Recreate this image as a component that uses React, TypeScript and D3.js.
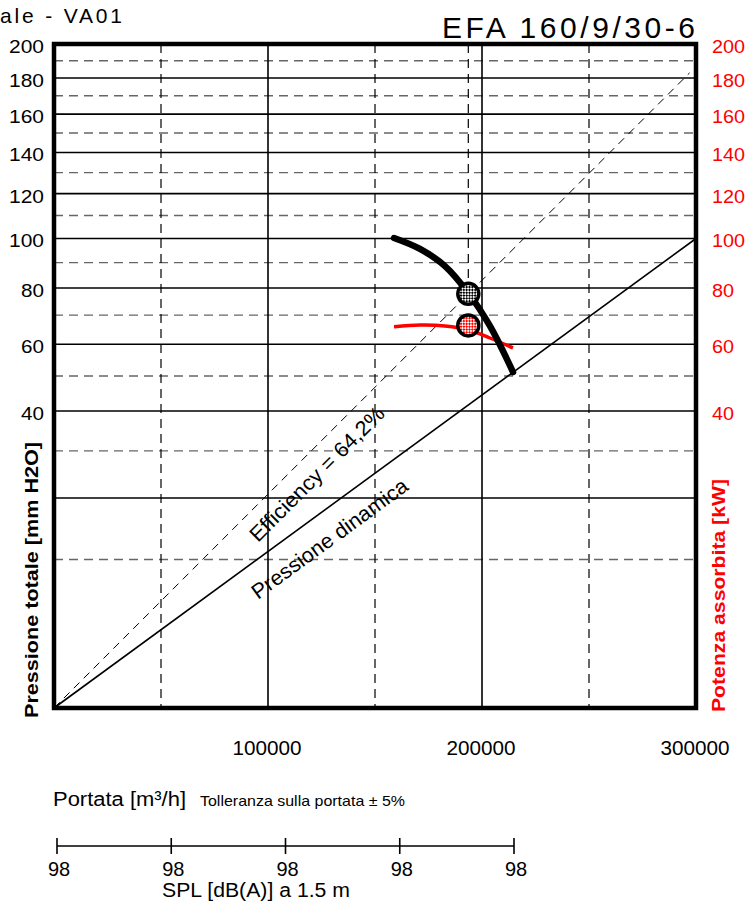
import * as d3 from "d3"

// Fan duty chart: total pressure (sqrt scale) vs flow, power on the right axis
const FLOW_TICKS = [100000, 200000, 300000]
const FLOW_GRID_MAJOR = [100000, 200000]
const FLOW_GRID_MINOR = [50000, 150000, 250000]
const PRESSURE_TICKS = [40, 60, 80, 100, 120, 140, 160, 180, 200]
const PRESSURE_GRID_MAJOR = [20, 40, 60, 80, 100, 120, 140, 160, 180]
const PRESSURE_GRID_MINOR = [10, 30, 50, 70, 90, 110, 130, 150, 170, 190]

// [flow m³/h, total pressure mm H2O]
const FAN_CURVE: [number, number][] = [
  [158900, 100.2],
  [171000, 95.6],
  [182700, 88.6],
  [193900, 77.8],
  [203700, 66.2],
  [214500, 51.2],
]
// [flow m³/h, absorbed power kW]
const POWER_CURVE: [number, number][] = [
  [158900, 65.9],
  [171000, 66.5],
  [182700, 66.2],
  [193900, 64.8],
  [203700, 62.1],
  [214500, 58.8],
]
const DYNAMIC_PRESSURE: [number, number][] = [
  [0, 0],
  [300000, 100],
]
const EFFICIENCY_LINE: [number, number][] = [
  [0, 0],
  [297000, 183],
]
const OP_FLOW = 193600
const OP_PRESSURE = 77.8
const OP_POWER = 66.4
const SPL_VALUES = [98, 98, 98, 98, 98]

const FONT = "'Liberation Sans', Arial, Helvetica, sans-serif"
const W = 747
const H = 908
const L = 54
const R = 696
const T = 44
const B = 708

function Txt({
  x,
  y,
  size,
  len,
  spacing = false,
  anchor = "start",
  fill = "#000",
  bold = false,
  rotate = 0,
  children,
}: {
  x: number
  y: number
  size: number
  len?: number
  spacing?: boolean
  anchor?: "start" | "middle" | "end"
  fill?: string
  bold?: boolean
  rotate?: number
  children: string
}) {
  return (
    <text
      x={x}
      y={y}
      fontSize={size}
      fontFamily={FONT}
      fontWeight={bold ? 700 : 400}
      fill={fill}
      textAnchor={anchor}
      textLength={len}
      lengthAdjust={len ? (spacing ? "spacing" : "spacingAndGlyphs") : undefined}
      transform={rotate ? `rotate(${rotate},${x},${y})` : undefined}
    >
      {children}
    </text>
  )
}

export default function App() {
  const x = d3.scaleLinear().domain([0, 300000]).range([L, R])
  const y = d3.scaleSqrt().domain([0, 200]).range([B, T])

  const smooth = d3
    .line<[number, number]>()
    .x((d) => x(d[0]))
    .y((d) => y(d[1]))
    .curve(d3.curveCatmullRom.alpha(0.5))
  const straight = d3
    .line<[number, number]>()
    .x((d) => x(d[0]))
    .y((d) => y(d[1]))

  const angle = (pts: [number, number][]) => {
    const [a, b] = pts
    return (Math.atan2(y(b[1]) - y(a[1]), x(b[0]) - x(a[0])) * 180) / Math.PI
  }

  const spl = d3.scaleLinear().domain([0, SPL_VALUES.length - 1]).range([57, 514])

  return (
    <svg
      width={W}
      height={H}
      viewBox={`0 0 ${W} ${H}`}
      style={{ position: "absolute", left: 0, top: 0, background: "#fff" }}
    >
      <defs>
        <pattern id="hatchK" width={4} height={4} patternUnits="userSpaceOnUse" patternTransform="rotate(45)">
          <rect width={4} height={4} fill="#fff" />
          <rect width={2} height={2} fill="#000" />
          <rect x={2} y={2} width={2} height={2} fill="#000" />
        </pattern>
        <pattern id="hatchR" width={4} height={4} patternUnits="userSpaceOnUse" patternTransform="rotate(45)">
          <rect width={4} height={4} fill="#fff" />
          <rect width={2} height={2} fill="#ff0000" />
          <rect x={2} y={2} width={2} height={2} fill="#ff0000" />
        </pattern>
      </defs>

      {/* grid */}
      <g>
        {PRESSURE_GRID_MINOR.map((p) => (
          <line key={`pm${p}`} x1={L} x2={R} y1={y(p)} y2={y(p)} stroke="#666" strokeWidth={1.4} strokeDasharray="9,6" />
        ))}
        {FLOW_GRID_MINOR.map((q) => (
          <line key={`qm${q}`} x1={x(q)} x2={x(q)} y1={T} y2={B} stroke="#000" strokeWidth={1.2} strokeDasharray="9,6" />
        ))}
        {PRESSURE_GRID_MAJOR.map((p) => (
          <line key={`pM${p}`} x1={L} x2={R} y1={y(p)} y2={y(p)} stroke="#000" strokeWidth={1.6} />
        ))}
        {FLOW_GRID_MAJOR.map((q) => (
          <line key={`qM${q}`} x1={x(q)} x2={x(q)} y1={T} y2={B} stroke="#000" strokeWidth={1.6} />
        ))}
      </g>

      {/* dynamic pressure and efficiency lines */}
      <path d={straight(DYNAMIC_PRESSURE) ?? ""} fill="none" stroke="#000" strokeWidth={1.6} />
      <path d={straight(EFFICIENCY_LINE) ?? ""} fill="none" stroke="#000" strokeWidth={1} strokeDasharray="8,6" />
      <line x1={x(OP_FLOW)} x2={x(OP_FLOW)} y1={T} y2={y(OP_PRESSURE) - 12} stroke="#000" strokeWidth={1.2} strokeDasharray="9,6" />

      <Txt x={258} y={543} size={21} len={181} rotate={angle(EFFICIENCY_LINE)}>
        Efficiency = 64,2%
      </Txt>
      <Txt x={258} y={600} size={21} len={188} rotate={angle(DYNAMIC_PRESSURE)}>
        Pressione dinamica
      </Txt>

      {/* curves */}
      <path d={smooth(POWER_CURVE) ?? ""} fill="none" stroke="#ff0000" strokeWidth={3.5} />
      <path d={smooth(FAN_CURVE) ?? ""} fill="none" stroke="#000" strokeWidth={6.5} strokeLinecap="round" />

      <circle cx={x(OP_FLOW)} cy={y(OP_PRESSURE)} r={10.5} fill="url(#hatchK)" stroke="#000" strokeWidth={3.5} />
      <circle cx={x(OP_FLOW)} cy={y(OP_POWER)} r={10.5} fill="url(#hatchR)" stroke="#000" strokeWidth={3.5} />

      {/* frame */}
      <rect x={L} y={T} width={R - L} height={B - T} fill="none" stroke="#000" strokeWidth={4.5} />

      {/* y tick labels */}
      {PRESSURE_TICKS.map((p) => (
        <g key={`yt${p}`}>
          <Txt x={44} y={y(p) + 9} size={19} len={p >= 100 ? 35 : 23} anchor="end">
            {String(p)}
          </Txt>
          <Txt x={712} y={y(p) + 9} size={19} len={p >= 100 ? 33 : 22} fill="#ff0000">
            {String(p)}
          </Txt>
        </g>
      ))}

      {/* x tick labels */}
      {FLOW_TICKS.map((q) => (
        <Txt key={`xt${q}`} x={x(q) - 1} y={755} size={20} len={69} anchor="middle">
          {String(q)}
        </Txt>
      ))}

      {/* titles */}
      <Txt x={0} y={23} size={21} len={122} spacing>
        ale - VA01
      </Txt>
      <Txt x={695} y={38} size={30} len={253} spacing anchor="end">
        EFA 160/9/30-6
      </Txt>

      <Txt x={38} y={718} size={19} len={276} bold rotate={-90}>
        Pressione totale [mm H2O]
      </Txt>
      <Txt x={725} y={712} size={19} len={233} bold fill="#ff0000" rotate={-90}>
        Potenza assorbita [kW]
      </Txt>

      <Txt x={53} y={806} size={20} len={133}>
        Portata [m³/h]
      </Txt>
      <Txt x={200} y={806} size={15} len={205}>
        Tolleranza sulla portata ± 5%
      </Txt>

      {/* SPL axis */}
      <line x1={spl(0)} x2={spl(SPL_VALUES.length - 1)} y1={846} y2={846} stroke="#000" strokeWidth={1.6} />
      {SPL_VALUES.map((v, i) => (
        <g key={`spl${i}`}>
          <line x1={spl(i)} x2={spl(i)} y1={838} y2={854} stroke="#000" strokeWidth={1.6} />
          <Txt x={spl(i) + 2} y={876} size={20} anchor="middle">
            {String(v)}
          </Txt>
        </g>
      ))}
      <Txt x={162} y={897} size={20} len={188}>
        SPL [dB(A)] a 1.5 m
      </Txt>
    </svg>
  )
}
